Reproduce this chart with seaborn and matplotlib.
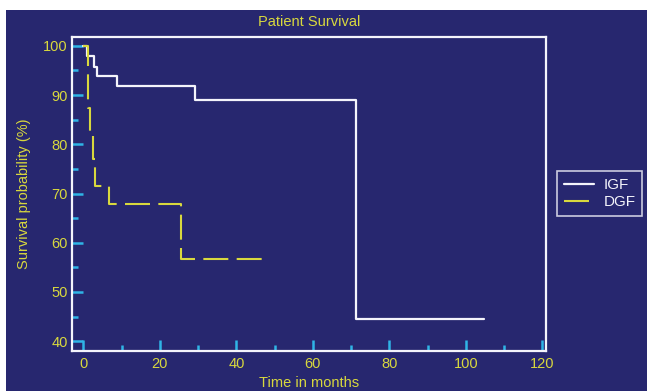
import pandas as pd
import seaborn as sns
import matplotlib.pyplot as plt
from matplotlib.patches import Rectangle
from matplotlib.ticker import MultipleLocator

# Kaplan-Meier step values
igf_time = [0, 1.0, 2.7, 3.6, 8.8, 29.3, 71.3, 104.8]
igf_surv = [100, 97.9, 95.8, 93.8, 91.9, 88.9, 44.6, 44.6]

dgf_time = [0, 1.1, 1.6, 2.4, 2.9, 6.7, 25.5, 48.0]
dgf_surv = [100, 87.4, 82.5, 77.0, 71.6, 67.9, 56.6, 56.6]

x_ticks = [0, 20, 40, 60, 80, 100, 120]
y_ticks = [40, 50, 60, 70, 80, 90, 100]

NAVY = "#27276f"
YELLOW = "#d8d83e"
CYAN = "#2fb4e6"
WHITE = "#f4f4fb"

sns.set_style("dark")
plt.rcParams['font.family'] = ['Liberation Sans', 'DejaVu Sans']

fig = plt.figure(figsize=(6.47, 3.91), dpi=100, facecolor="white")
fig.patches.append(Rectangle((6 / 647, 0), 1, 381 / 391, transform=fig.transFigure,
                             facecolor=NAVY, edgecolor="none", zorder=-1))
ax = fig.add_axes([72 / 647, 40 / 391, 474 / 647, 314 / 391])
ax.set_facecolor(NAVY)

igf = pd.DataFrame({"time": igf_time, "surv": igf_surv})
dgf = pd.DataFrame({"time": dgf_time, "surv": dgf_surv})

sns.lineplot(data=igf, x="time", y="surv", ax=ax, color=WHITE, lw=1.6,
             drawstyle="steps-post", label="IGF")
sns.lineplot(data=dgf, x="time", y="surv", ax=ax, color=YELLOW, lw=1.5,
             drawstyle="steps-post", label="DGF", dashes=(12, 4))

ax.set_xlim(-3, 121)
ax.set_ylim(38, 101.8)
ax.set_xticks(x_ticks)
ax.set_yticks(y_ticks)
ax.xaxis.set_minor_locator(MultipleLocator(10))
ax.yaxis.set_minor_locator(MultipleLocator(5))
ax.grid(False)

for s in ax.spines.values():
    s.set_visible(True)
    s.set_color(WHITE)
    s.set_linewidth(1.6)

ax.tick_params(which="major", direction="in", length=8, width=1.8, color=CYAN,
               labelcolor=YELLOW, labelsize=10.5, pad=3)
ax.tick_params(which="minor", direction="in", length=4.5, width=1.8, color=CYAN)
ax.tick_params(axis="x", which="both", bottom=True, pad=4)
ax.tick_params(axis="y", which="both", left=True)

ax.set_xlabel("Time in months", color=YELLOW, fontsize=10.5, labelpad=4)
ax.set_ylabel("Survival probability (%)", color=YELLOW, fontsize=10.5, labelpad=9)
ax.set_title("Patient Survival", color=YELLOW, fontsize=10.5, pad=8)

leg = ax.legend(loc="upper left", bbox_to_anchor=(557 / 647, 1 - 171 / 391),
                bbox_transform=fig.transFigure, frameon=True, fancybox=False,
                facecolor=NAVY, edgecolor=WHITE, fontsize=11, handlelength=2.0,
                borderpad=0.45, labelspacing=0.2, handletextpad=0.6,
                borderaxespad=0)
leg.get_frame().set_linewidth(1.2)
for t in leg.get_texts():
    t.set_color(WHITE)

fig.savefig("out.png", dpi=100, facecolor=fig.get_facecolor())
